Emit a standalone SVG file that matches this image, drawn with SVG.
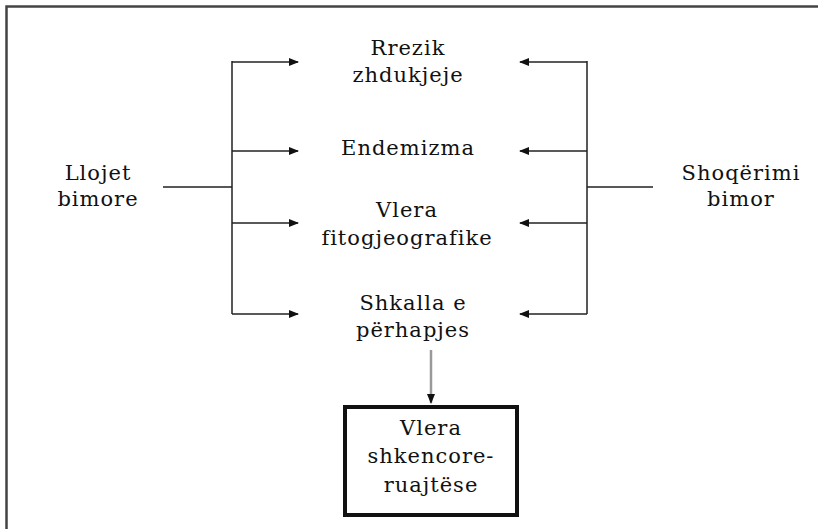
<svg xmlns="http://www.w3.org/2000/svg" width="818" height="529" viewBox="0 0 818 529">
<defs>
<marker id="ah" markerWidth="10" markerHeight="10" refX="9" refY="5" orient="auto" markerUnits="userSpaceOnUse">
<path d="M0,1 L10,5 L0,9 Z" fill="#111"/>
</marker>
<style>
.t{font-family:"DejaVu Serif","Liberation Serif",serif;font-size:21px;fill:#111;text-anchor:middle;letter-spacing:1px}
.c{stroke:#222;stroke-width:1.5;fill:none}
</style>
</defs>
<rect width="818" height="529" fill="#fff"/>
<g id="frame">
<path d="M6.5,529 V6.5 H818" stroke="#444" stroke-width="2.5" fill="none"/>
</g>
<g id="connectors">
<path class="c" d="M163,187 H232 M232,61 V314"/>
<path class="c" d="M232,62 H298" marker-end="url(#ah)"/>
<path class="c" d="M232,151 H298" marker-end="url(#ah)"/>
<path class="c" d="M232,223 H298" marker-end="url(#ah)"/>
<path class="c" d="M232,314 H298" marker-end="url(#ah)"/>
<path class="c" d="M653,187 H587 M587,61 V314"/>
<path class="c" d="M587,62 H520" marker-end="url(#ah)"/>
<path class="c" d="M587,151 H520" marker-end="url(#ah)"/>
<path class="c" d="M587,223 H520" marker-end="url(#ah)"/>
<path class="c" d="M587,314 H520" marker-end="url(#ah)"/>
<path d="M431,350 V403" stroke="#999" stroke-width="2.5" fill="none" marker-end="url(#ah)"/>
</g>
<g id="llojet"><text class="t" x="98" y="180">Llojet</text><text class="t" x="98" y="206">bimore</text></g>
<g id="shoqerimi"><text class="t" x="741" y="180">Shoqërimi</text><text class="t" x="741" y="206">bimor</text></g>
<g id="rrezik"><text class="t" x="408" y="55">Rrezik</text><text class="t" x="408" y="82">zhdukjeje</text></g>
<g id="endemizma"><text class="t" x="408" y="155">Endemizma</text></g>
<g id="vlera-fito"><text class="t" x="407" y="217">Vlera</text><text class="t" x="407" y="245">fitogjeografike</text></g>
<g id="shkalla"><text class="t" x="413" y="310">Shkalla e</text><text class="t" x="413" y="337">përhapjes</text></g>
<g id="vlera-shk">
<rect x="345" y="407" width="172" height="108" fill="#fff" stroke="#111" stroke-width="4"/>
<text class="t" x="431" y="435">Vlera</text><text class="t" x="431" y="463">shkencore-</text><text class="t" x="431" y="492">ruajtëse</text>
</g>
</svg>
